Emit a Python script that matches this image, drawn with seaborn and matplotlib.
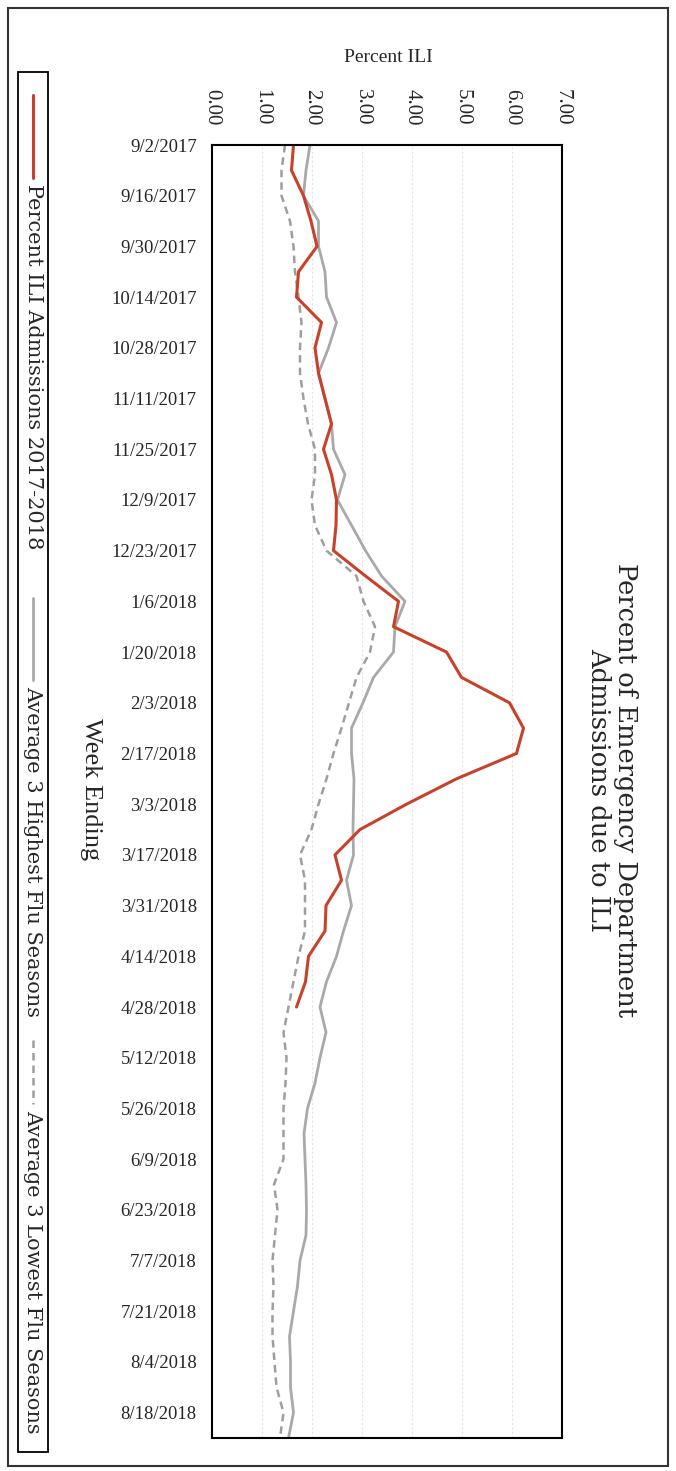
import numpy as np
import pandas as pd
import matplotlib
matplotlib.use("Agg")
import matplotlib.pyplot as plt
from matplotlib.patches import Rectangle
from matplotlib.lines import Line2D
import seaborn as sns

# Data (week index 0 = 9/2/2017)
week_labels = ["9/2/2017", "9/16/2017", "9/30/2017", "10/14/2017", "10/28/2017",
               "11/11/2017", "11/25/2017", "12/9/2017", "12/23/2017", "1/6/2018",
               "1/20/2018", "2/3/2018", "2/17/2018", "3/3/2018", "3/17/2018",
               "3/31/2018", "4/14/2018", "4/28/2018", "5/12/2018", "5/26/2018",
               "6/9/2018", "6/23/2018", "7/7/2018", "7/21/2018", "8/4/2018",
               "8/18/2018"]
pct_labels = ["0.00", "1.00", "2.00", "3.00", "4.00", "5.00", "6.00", "7.00"]

ili_2017_18 = [1.63, 1.59, 1.83, 1.98, 2.10, 1.73, 1.69, 2.19, 2.06, 2.13,
               2.26, 2.39, 2.23, 2.39, 2.49, 2.48, 2.43, 3.07, 3.73, 3.63,
               4.69, 4.99, 5.95, 6.23, 6.09, 4.89, 3.89, 2.96, 2.46, 2.59,
               2.28, 2.26, 1.93, 1.87, 1.69]
avg_highest = [1.96, 1.88, 1.83, 2.13, 2.13, 2.26, 2.29, 2.49, 2.33, 2.13,
               2.26, 2.39, 2.43, 2.66, 2.51, 2.79, 3.07, 3.39, 3.86, 3.66,
               3.63, 3.23, 3.02, 2.79, 2.79, 2.84, 2.83, 2.82, 2.83, 2.69,
               2.79, 2.63, 2.49, 2.29, 2.16, 2.28, 2.16, 2.06, 1.91, 1.84,
               1.86, 1.88, 1.89, 1.88, 1.76, 1.71, 1.63, 1.55, 1.57, 1.57,
               1.63, 1.53]
avg_lowest = [1.46, 1.39, 1.39, 1.56, 1.63, 1.66, 1.73, 1.79, 1.76, 1.76,
              1.83, 1.92, 2.06, 2.06, 1.99, 2.06, 2.29, 2.89, 3.03, 3.26,
              3.16, 2.89, 2.74, 2.59, 2.43, 2.29, 2.13, 1.99, 1.76, 1.86,
              1.86, 1.86, 1.73, 1.63, 1.53, 1.43, 1.49, 1.47, 1.43, 1.43,
              1.43, 1.24, 1.31, 1.26, 1.21, 1.23, 1.21, 1.21, 1.25, 1.29,
              1.43, 1.36]

RED = "#C8412A"
GREY = "#A9A9A9"
DGREY = "#9E9E9E"
SERIF = ["Liberation Serif", "DejaVu Serif"]
W, H = 676, 1471


def fx(px):
    return px / W


def fy(py):
    return 1 - py / H


sns.set_style("white")
plt.rcParams["font.family"] = SERIF

fig = plt.figure(figsize=(W / 100, H / 100), dpi=100)
ax = fig.add_axes([fx(212), fy(1438), 350 / W, 1293 / H])

sns.lineplot(x=avg_lowest, y=np.arange(len(avg_lowest)), orient="y", sort=False,
             estimator=None, color=DGREY, lw=1.8, ax=ax)
ax.lines[-1].set_dashes((3, 2))
sns.lineplot(x=avg_highest, y=np.arange(len(avg_highest)), orient="y", sort=False,
             estimator=None, color=GREY, lw=2.0, ax=ax)
sns.lineplot(x=ili_2017_18, y=np.arange(len(ili_2017_18)), orient="y", sort=False,
             estimator=None, color=RED, lw=2.2, ax=ax)

ax.set_xlim(0, 7)
ax.set_ylim(51, 0)
ax.xaxis.set_ticks_position("top")
ax.set_xticks(np.arange(len(pct_labels)))
ax.set_xticklabels(pct_labels, rotation=-90, fontsize=15)
ax.set_yticks(np.arange(0, 2 * len(week_labels), 2))
ax.set_yticklabels(week_labels, fontsize=13.5)
ax.tick_params(axis="x", length=0, pad=14)
ax.tick_params(axis="y", length=0, pad=11)
ax.set_xlabel("")
ax.set_ylabel("")
ax.grid(axis="x", color="#E4E4E4", lw=0.8, ls=(0, (2, 2)))
ax.grid(axis="y", visible=False)
for s in ax.spines.values():
    s.set_color("black")
    s.set_linewidth(1.5)

# axis titles and chart title
fig.text(fx(388), fy(57), "Percent ILI", ha="center", va="center", fontsize=14)
fig.text(fx(91), fy(789), "Week Ending", ha="center", va="center",
         rotation=-90, fontsize=19)
fig.text(fx(612), fy(790), "Percent of Emergency Department\nAdmissions due to ILI",
         ha="center", va="center", rotation=-90, fontsize=18.5,
         family=["DejaVu Serif"], linespacing=1.1)

# legend (rotated like the rest of the chart)
fig.add_artist(Rectangle((fx(18), fy(1452)), 30 / W, 1380 / H, transform=fig.transFigure,
                         fill=False, ec="black", lw=1.3))
legend_items = [
    (RED, 2.2, "-", 95, 178, "Percent ILI Admissions 2017-2018", 184),
    (GREY, 2.0, "-", 598, 680, "Average 3 Highest Flu Seasons", 686),
    (DGREY, 1.8, "--", 1040, 1104, "Average 3 Lowest Flu Seasons", 1110),
]
for col, lw, ls, y0, y1, lab, ty in legend_items:
    ln = Line2D([fx(33), fx(33)], [fy(y0), fy(y1)], transform=fig.transFigure,
                color=col, lw=lw, ls=ls)
    if ls == "--":
        ln.set_dashes((3, 2))
    fig.add_artist(ln)
    fig.text(fx(33), fy(ty), lab, ha="center", va="top", rotation=-90,
             fontsize=15, family=["DejaVu Serif"])

# outer frame
fig.add_artist(Rectangle((fx(8), fy(1466)), 660 / W, 1458 / H, transform=fig.transFigure,
                         fill=False, ec="#333333", lw=1.5))

fig.savefig("out.png", dpi=100)
